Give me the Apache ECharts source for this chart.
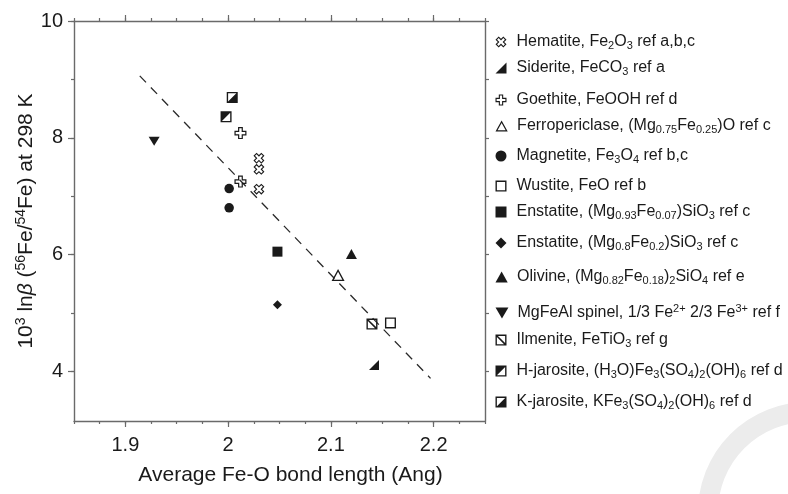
<!DOCTYPE html>
<html><head><meta charset="utf-8">
<script src="https://cdn.jsdelivr.net/npm/echarts@6/dist/echarts.min.js"></script>
<style>html,body{margin:0;padding:0;background:#fff}#c{width:788px;height:494px}</style>
</head><body><div id="c"></div>
<script>
// ---------------- data ----------------
const xMajorTicks = [1.9, 2.0, 2.1, 2.2];
const xMinorTicks = [1.85, 1.875, 1.9, 1.925, 1.95, 1.975, 2.0, 2.025, 2.05, 2.075, 2.1, 2.125, 2.15, 2.175, 2.2, 2.225, 2.25];
const yMajorTicks = [4, 6, 8, 10];
const yMinorTicks = [4, 5, 6, 7, 8, 9, 10];

const hematite = [[2.030, 7.65], [2.030, 7.46], [2.030, 7.12]];
const siderite = [[2.142, 4.11]];
const goethite = [[2.012, 8.08], [2.012, 7.25]];
const ferropericlase = [[2.107, 5.65]];
const magnetite = [[2.001, 7.13], [2.001, 6.80]];
const wustite = [[2.158, 4.83]];
const enstatite093 = [[2.048, 6.05]];
const enstatite08 = [[2.048, 5.14]];
const olivine = [[2.120, 6.01]];
const spinel = [[1.928, 7.94]];
const ilmenite = [[2.140, 4.81]];
const hJarosite = [[1.998, 8.36]];
const kJarosite = [[2.004, 8.69]];
const fitLine = [[1.914, 9.06], [2.197, 3.88]];

const seriesNames = ['Hematite', 'Siderite', 'Goethite', 'Ferropericlase', 'Magnetite', 'Wustite',
  'Enstatite 0.93', 'Enstatite 0.8', 'Olivine', 'MgFeAl spinel', 'Ilmenite', 'H-jarosite', 'K-jarosite'];
const legendLabels = [
  'Hematite, Fe{sub|2}O{sub|3} ref a,b,c',
  'Siderite, FeCO{sub|3} ref a',
  'Goethite, FeOOH ref d',
  'Ferropericlase, (Mg{sub|0.75}Fe{sub|0.25})O ref c',
  'Magnetite, Fe{sub|3}O{sub|4} ref b,c',
  'Wustite, FeO ref b',
  'Enstatite, (Mg{sub|0.93}Fe{sub|0.07})SiO{sub|3} ref c',
  'Enstatite, (Mg{sub|0.8}Fe{sub|0.2})SiO{sub|3} ref c',
  'Olivine, (Mg{sub|0.82}Fe{sub|0.18}){sub|2}SiO{sub|4} ref e',
  'MgFeAl spinel, 1/3 Fe{sup|2+} 2/3 Fe{sup|3+} ref f',
  'Ilmenite, FeTiO{sub|3} ref g',
  'H-jarosite, (H{sub|3}O)Fe{sub|3}(SO{sub|4}){sub|2}(OH){sub|6} ref d',
  'K-jarosite, KFe{sub|3}(SO{sub|4}){sub|2}(OH){sub|6} ref d'
];
const xTitle = 'Average Fe-O bond length (Ang)';
const yTitle = '10{sup|3} ln{it|β} ({sup|56}Fe/{sup|54}Fe) at 298 K';

// ---------------- styles ----------------
const FONT = 'Liberation Sans, Arial, Helvetica, sans-serif';
const INK = '#1a1a1a';
const AX = '#6a6a6a';
const SQ = 'M0,0L20,0L20,20L0,20Z M2.5,2.5L2.5,17.5L17.5,17.5L17.5,2.5Z';
const symbols = [
  'path://M14.24,0.1L19.9,5.76L15.66,10L19.9,14.24L14.24,19.9L10,15.66L5.76,19.9L0.1,14.24L4.34,10L0.1,5.76L5.76,0.1L10,4.34Z M14.24,2.93L10,7.17L5.76,2.93L2.93,5.76L7.17,10L2.93,14.24L5.76,17.07L10,12.83L14.24,17.07L17.07,14.24L12.83,10L17.07,5.76Z',
  'path://M20,0L20,20L0,20Z',
  'path://M6,0L14,0L14,6L20,6L20,14L14,14L14,20L6,20L6,14L0,14L0,6L6,6Z M8,2L8,8L2,8L2,12L8,12L8,18L12,18L12,12L18,12L18,8L12,8L12,2Z',
  'path://M10,0L20,18L0,18Z M10,4.2L3.4,16L16.6,16Z',
  'circle',
  'path://' + SQ,
  'path://M0,0L20,0L20,20L0,20Z',
  'path://M10,0L20,10L10,20L0,10Z',
  'path://M10,0L20,18L0,18Z',
  'path://M0,0L20,0L10,17Z',
  'path://' + SQ + ' M2.5,2.5L4.5,2.5L17.5,15.5L17.5,17.5L15.5,17.5L2.5,4.5Z',
  'path://' + SQ + ' M2.5,2.5L17.5,2.5L2.5,17.5Z',
  'path://' + SQ + ' M17.5,2.5L17.5,17.5L2.5,17.5Z'
];
const symbolSizes = [[11, 11], [10, 10], [12, 12], [13, 12], 9.5, [11, 11], [10, 10], [9, 9], [11, 10], [11, 9], [11, 11], [11, 11], [11, 11]];
const seriesData = [hematite, siderite, goethite, ferropericlase, magnetite, wustite,
  enstatite093, enstatite08, olivine, spinel, ilmenite, hJarosite, kJarosite];
const legendCenters = [42, 68, 100, 126, 156, 186, 212, 243, 277, 313, 340, 371, 402];

const richLegend = {
  sub: { fontSize: 11, fontFamily: FONT, color: INK, lineHeight: 20, padding: [8, 0, 0, 0] },
  sup: { fontSize: 11, fontFamily: FONT, color: INK, lineHeight: 20, padding: [0, 0, 8, 0] }
};

const chart = echarts.init(document.getElementById('c'), null, { renderer: 'canvas' });

const series = [{
  type: 'line', data: fitLine, showSymbol: false, silent: true, z: 1,
  lineStyle: { color: '#2a2a2a', width: 1.3, type: [9, 7] }
}];
seriesNames.forEach((n, i) => {
  series.push({
    type: 'scatter', name: n, data: seriesData[i], symbol: symbols[i], symbolSize: symbolSizes[i],
    itemStyle: { color: INK, opacity: 1, borderWidth: 0 }, z: 3
  });
});

const legends = seriesNames.map((n, i) => ({
  data: [{ name: n, icon: symbols[i] }],
  left: 495.5, top: legendCenters[i] - 10, orient: 'vertical',
  itemWidth: 21, itemHeight: 11, selectedMode: false, padding: 0, symbolKeepAspect: true,
  formatter: () => legendLabels[i],
  textStyle: { fontSize: 16, fontFamily: FONT, color: INK, lineHeight: 20, rich: richLegend }
}));

const axLine = { show: true, lineStyle: { color: AX, width: 1.4 } };
const tickStyle = { color: AX, width: 1.2 };
const commonX = { type: 'value', min: 1.85, max: 2.25, splitLine: { show: false } };
const commonY = { type: 'value', min: 3.15, max: 10, splitLine: { show: false } };

chart.setOption({
  animation: false,
  backgroundColor: '#fff',
  grid: { left: 74, top: 21, width: 411, height: 400 },
  legend: legends,
  xAxis: [
    Object.assign({}, commonX, {
      position: 'bottom', axisLine: axLine,
      axisTick: { show: true, length: 6, customValues: xMajorTicks, lineStyle: tickStyle },
      axisLabel: { customValues: xMajorTicks, fontSize: 20, fontFamily: FONT, color: INK, margin: 14 },
      name: xTitle, nameLocation: 'middle', nameGap: 42, nameMoveOverlap: false,
      nameTextStyle: { fontSize: 21, fontFamily: FONT, color: INK, lineHeight: 24, padding: [0, 0, 0, 22] }
    }),
    Object.assign({}, commonX, {
      position: 'bottom', axisLine: { show: false },
      axisTick: { show: true, length: 3, customValues: xMinorTicks, lineStyle: tickStyle },
      axisLabel: { show: false }
    }),
    Object.assign({}, commonX, {
      position: 'top', axisLine: axLine,
      axisTick: { show: true, length: 6, customValues: xMajorTicks, lineStyle: tickStyle },
      axisLabel: { show: false }
    }),
    Object.assign({}, commonX, {
      position: 'top', axisLine: { show: false },
      axisTick: { show: true, length: 3, customValues: xMinorTicks, lineStyle: tickStyle },
      axisLabel: { show: false }
    })
  ],
  yAxis: [
    Object.assign({}, commonY, {
      position: 'left', axisLine: axLine,
      axisTick: { show: true, length: 6, customValues: yMajorTicks, lineStyle: tickStyle },
      axisLabel: { customValues: yMajorTicks, fontSize: 20, fontFamily: FONT, color: INK, margin: 11 },
      name: yTitle, nameLocation: 'middle', nameGap: 36, nameMoveOverlap: false,
      nameTextStyle: {
        fontSize: 21, fontFamily: FONT, color: INK, lineHeight: 24,
        rich: {
          sup: { fontSize: 14, fontFamily: FONT, color: INK, lineHeight: 24, padding: [0, 0, 10, 0] },
          it: { fontSize: 21, fontFamily: FONT, fontStyle: 'italic', color: INK, lineHeight: 24 }
        }
      }
    }),
    Object.assign({}, commonY, {
      position: 'left', axisLine: { show: false },
      axisTick: { show: true, length: 3, customValues: yMinorTicks, lineStyle: tickStyle },
      axisLabel: { show: false }
    }),
    Object.assign({}, commonY, {
      position: 'right', axisLine: axLine,
      axisTick: { show: true, length: 4, customValues: yMinorTicks, lineStyle: tickStyle },
      axisLabel: { show: false }
    })
  ],
  graphic: [{
    type: 'arc', silent: true, z: -10,
    shape: { cx: 808, cy: 512, r: 100, startAngle: Math.PI, endAngle: Math.PI * 1.5 },
    style: { stroke: '#ececec', lineWidth: 20, fill: null }
  }],
  series: series
});
</script>
</body></html>
